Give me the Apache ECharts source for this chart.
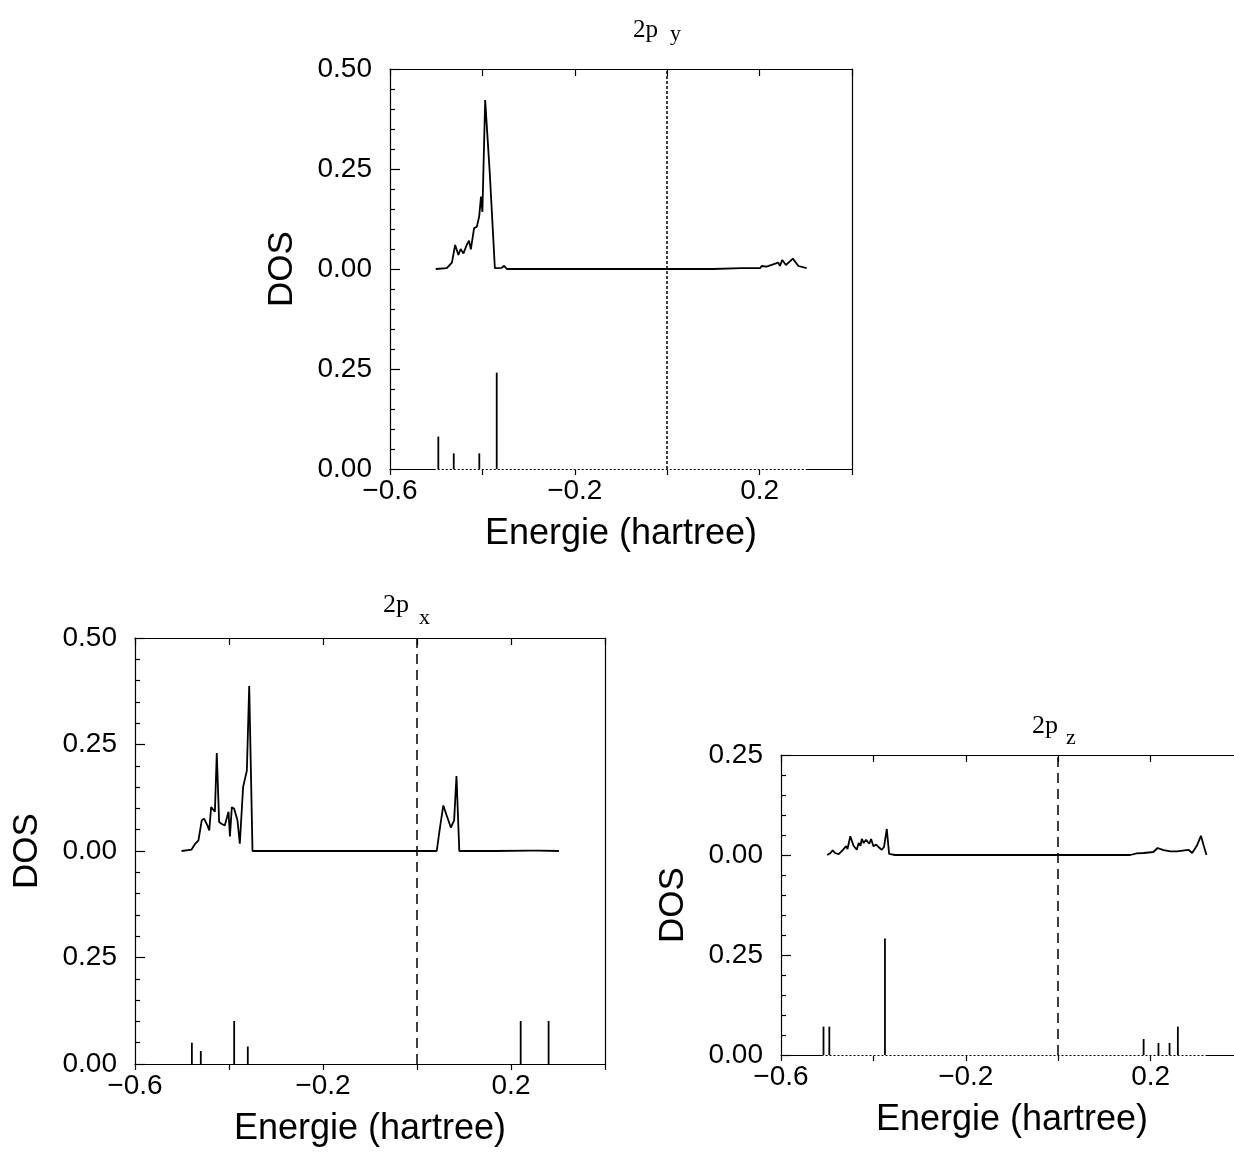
<!DOCTYPE html>
<html><head><meta charset="utf-8">
<script src="https://cdn.jsdelivr.net/npm/echarts@6/dist/echarts.min.js"></script>
<style>html,body{margin:0;padding:0;background:#fff}#c{width:1234px;height:1153px}</style>
</head><body><div id="c"></div>
<script>
// ---------- DATA ----------
// Shared x tick labels (energy, hartree)
const xTickValues = [-0.6, -0.2, 0.2];
const xTickText = ['\u22120.6', '\u22120.2', '0.2'];
const fermiLevel = 0.0;

// 2p_y (top panel)
const pyCurveE = [-0.501, -0.477, -0.466, -0.459, -0.452, -0.447, -0.441, -0.434, -0.429, -0.425, -0.418, -0.412, -0.407, -0.403, -0.400, -0.394, -0.384, -0.373, -0.358, -0.353, -0.347, -0.25, -0.1, 0.0, 0.1, 0.16, 0.201, 0.2045, 0.215, 0.2405, 0.244, 0.249, 0.253, 0.257, 0.272, 0.284, 0.302];
const pyCurveV = [0, 0.002, 0.016, 0.06, 0.035, 0.05, 0.039, 0.06, 0.071, 0.049, 0.102, 0.106, 0.131, 0.181, 0.143, 0.4225, 0.239, 0.002, 0.003, 0.008, 0, 0, 0, 0, 0, 0.002, 0.002, 0.0075, 0.006, 0.016, 0.008, 0.0225, 0.0225, 0.01, 0.026, 0.0075, 0.002];
const pyStickE = [-0.4954, -0.462, -0.4067, -0.369];
const pyStickH = [0.081, 0.039, 0.039, 0.241];
const pyYLabels = ['0.00', '0.25', '0.00', '0.25', '0.50'];

// 2p_x (bottom-left panel)
const pxCurveE = [-0.501, -0.487, -0.480, -0.472, -0.465, -0.458, -0.453, -0.446, -0.442, -0.438, -0.435, -0.430, -0.426, -0.421, -0.416, -0.409, -0.401, -0.398, -0.394, -0.389, -0.382, -0.377, -0.370, -0.362, -0.357, -0.350, -0.2, 0.0, 0.042, 0.049, 0.056, 0.063, 0.072, 0.079, 0.084, 0.090, 0.155, 0.159, 0.163, 0.24, 0.26, 0.302];
const pxCurveV = [0, 0.002, 0.003, 0.017, 0.025, 0.072, 0.076, 0.060, 0.0485, 0.103, 0.107, 0.092, 0.230, 0.068, 0.064, 0.060, 0.092, 0.034, 0.103, 0.099, 0.072, 0.017, 0.150, 0.189, 0.387, 0, 0, 0, 0, 0.056, 0.107, 0.084, 0.055, 0.072, 0.176, 0, 0, 0.003, 0, 0.001, 0.001, 0];
const pxStickE = [-0.479, -0.460, -0.389, -0.360, 0.2206, 0.280];
const pxStickH = [0.050, 0.0305, 0.101, 0.041, 0.101, 0.101];
const pxYLabels = ['0.00', '0.25', '0.00', '0.25', '0.50'];

// 2p_z (bottom-right panel)
const pzCurveE = [-0.500, -0.493, -0.488, -0.483, -0.475, -0.466, -0.459, -0.456, -0.450, -0.443, -0.436, -0.432, -0.428, -0.425, -0.421, -0.416, -0.413, -0.409, -0.405, -0.400, -0.394, -0.389, -0.382, -0.377, -0.371, -0.366, -0.353, -0.2, 0.0, 0.156, 0.170, 0.185, 0.206, 0.215, 0.228, 0.243, 0.257, 0.282, 0.290, 0.300, 0.309, 0.315, 0.321];
const pzCurveV = [0, 0.005, 0.012, 0.005, 0.002, 0.013, 0.022, 0.015, 0.047, 0.023, 0.013, 0.03, 0.023, 0.04, 0.03, 0.038, 0.034, 0.028, 0.04, 0.022, 0.026, 0.02, 0.013, 0.02, 0.065, 0.003, 0, 0, 0, 0, 0.004, 0.005, 0.0075, 0.0175, 0.012, 0.009, 0.009, 0.013, 0.005, 0.023, 0.048, 0.023, 0];
const pzStickE = [-0.508, -0.4954, -0.375, 0.1849, 0.217, 0.241, 0.259];
const pzStickH = [0.071, 0.071, 0.291, 0.04, 0.03, 0.03, 0.071];
const pzYLabels = ['0.00', '0.25', '0.00', '0.25'];

// ---------- LAYOUT / BUILD ----------
const CURVE_OFFSET = 0.5;
const SANS = 'Liberation Sans, Arial, Helvetica, sans-serif';
const SERIF = 'Liberation Serif, Times New Roman, serif';

const panels = [
  {cE: pyCurveE, cV: pyCurveV, sE: pyStickE, sH: pyStickH, yl: pyYLabels, ymax: 1.0,
   grid: {left: 390, top: 69, width: 462, height: 400}, fermiDash: [3, 2], dottedBase: true,
   title: {x: 633, y: 30.5, sub: 'y', sx: 670, sy: 34, size: 25}},
  {cE: pxCurveE, cV: pxCurveV, sE: pxStickE, sH: pxStickH, yl: pxYLabels, ymax: 1.0,
   grid: {left: 135, top: 638, width: 470, height: 426}, fermiDash: [10, 6], dottedBase: false,
   title: {x: 383, y: 605, sub: 'x', sx: 419, sy: 618, size: 26}},
  {cE: pzCurveE, cV: pzCurveV, sE: pzStickE, sH: pzStickH, yl: pzYLabels, ymax: 0.75,
   grid: {left: 781, top: 755, width: 462, height: 300}, fermiDash: [10, 6], dottedBase: true,
   title: {x: 1032, y: 726.5, sub: 'z', sx: 1066, sy: 738, size: 26}}
];

function xFmt(v) {
  for (let i = 0; i < xTickValues.length; i++) {
    if (Math.abs(v - xTickValues[i]) < 1e-6) return xTickText[i];
  }
  return '';
}

const grids = [], xAxes = [], yAxes = [], series = [], graphics = [];
const black = '#000';

panels.forEach((p, k) => {
  grids.push(Object.assign({containLabel: false, outerBoundsMode: 'none'}, p.grid));
  // bottom x
  xAxes.push({
    gridIndex: k, type: 'value', position: 'bottom', min: -0.6, max: 0.4, interval: 0.2,
    axisLine: {show: true, onZero: false, lineStyle: {color: black, width: 1.2}},
    axisTick: {show: true, inside: false, length: 6, lineStyle: {color: black, width: 1.2}},
    axisLabel: {show: true, formatter: xFmt, color: black, fontSize: 28, fontFamily: SANS, margin: 8},
    splitLine: {show: false},
    name: 'Energie (hartree)', nameLocation: 'middle', nameGap: 47,
    nameTextStyle: {color: black, fontSize: 36, fontFamily: SANS}
  });
  // top x (frame)
  xAxes.push({
    gridIndex: k, type: 'value', position: 'top', min: -0.6, max: 0.4, interval: 0.2,
    axisLine: {show: true, onZero: false, lineStyle: {color: black, width: 1.2}},
    axisTick: {show: true, inside: true, length: 7, lineStyle: {color: black, width: 1.2}},
    axisLabel: {show: false}, splitLine: {show: false}
  });
  const labels = p.yl;
  yAxes.push({
    gridIndex: k, type: 'value', position: 'left', min: 0, max: p.ymax, interval: 0.25,
    axisLine: {show: true, onZero: false, lineStyle: {color: black, width: 1.2}},
    axisTick: {show: true, inside: true, length: 10, lineStyle: {color: black, width: 1.2}},
    minorTick: {show: true, splitNumber: 5, length: 5, lineStyle: {color: black, width: 1.2}},
    axisLabel: {show: true, color: black, fontSize: 28, fontFamily: SANS, margin: 18,
      formatter: function (v) { const i = Math.round(v / 0.25); return labels[i] !== undefined ? labels[i] : ''; }},
    splitLine: {show: false}, minorSplitLine: {show: false},
    name: 'DOS', nameLocation: 'middle', nameGap: 90, nameRotate: 90,
    nameTextStyle: {color: black, fontSize: 35, fontFamily: SANS}
  });
  yAxes.push({
    gridIndex: k, type: 'value', position: 'right', min: 0, max: p.ymax,
    axisLine: {show: true, onZero: false, lineStyle: {color: black, width: 1.2}},
    axisTick: {show: false}, axisLabel: {show: false}, splitLine: {show: false}
  });
  const xi = 2 * k, yi = 2 * k;
  // curve
  series.push({
    type: 'line', xAxisIndex: xi, yAxisIndex: yi, showSymbol: false, symbol: 'none',
    data: p.cE.map((e, i) => [e, p.cV[i] + CURVE_OFFSET]),
    lineStyle: {color: black, width: 1.8}, z: 5, animation: false,
    markLine: {silent: true, symbol: 'none', label: {show: false}, animation: false,
      lineStyle: {color: black, type: p.fermiDash, width: 1.5},
      data: [{xAxis: fermiLevel}]}
  });
  // dotted baseline of the stick spectrum
  if (p.dottedBase) {
    const e0 = Math.min(p.sE[0], p.cE[0]);
    const e1 = p.cE[p.cE.length - 1];
    series.push({
      type: 'line', xAxisIndex: xi, yAxisIndex: yi, showSymbol: false, symbol: 'none',
      data: [[e0, 0], [e1, 0]], z: 4, animation: false,
      lineStyle: {color: '#fff', width: 2, type: [2, 2]}
    });
  }
  // sticks
  series.push({
    type: 'custom', xAxisIndex: xi, yAxisIndex: yi, z: 6, animation: false,
    data: p.sE.map((e, i) => [e, p.sH[i]]),
    encode: {x: 0, y: 1},
    renderItem: function (params, api) {
      const a = api.coord([api.value(0), 0]);
      const b = api.coord([api.value(0), api.value(1)]);
      return {type: 'line', shape: {x1: a[0], y1: a[1], x2: b[0], y2: b[1]},
        style: {stroke: black, lineWidth: 1.8}};
    }
  });
  // title 2p_sub
  graphics.push({type: 'text', x: p.title.x, y: p.title.y,
    style: {text: '2p', font: p.title.size + 'px ' + SERIF, fill: black, textAlign: 'left', textVerticalAlign: 'middle'}});
  graphics.push({type: 'text', x: p.title.sx, y: p.title.sy,
    style: {text: p.title.sub, font: '22px ' + SERIF, fill: black, textAlign: 'left', textVerticalAlign: 'middle'}});
});

const chart = echarts.init(document.getElementById('c'), null, {renderer: 'canvas'});
chart.setOption({
  animation: false,
  backgroundColor: '#fff',
  grid: grids, xAxis: xAxes, yAxis: yAxes, series: series, graphic: graphics
});
</script></body></html>
